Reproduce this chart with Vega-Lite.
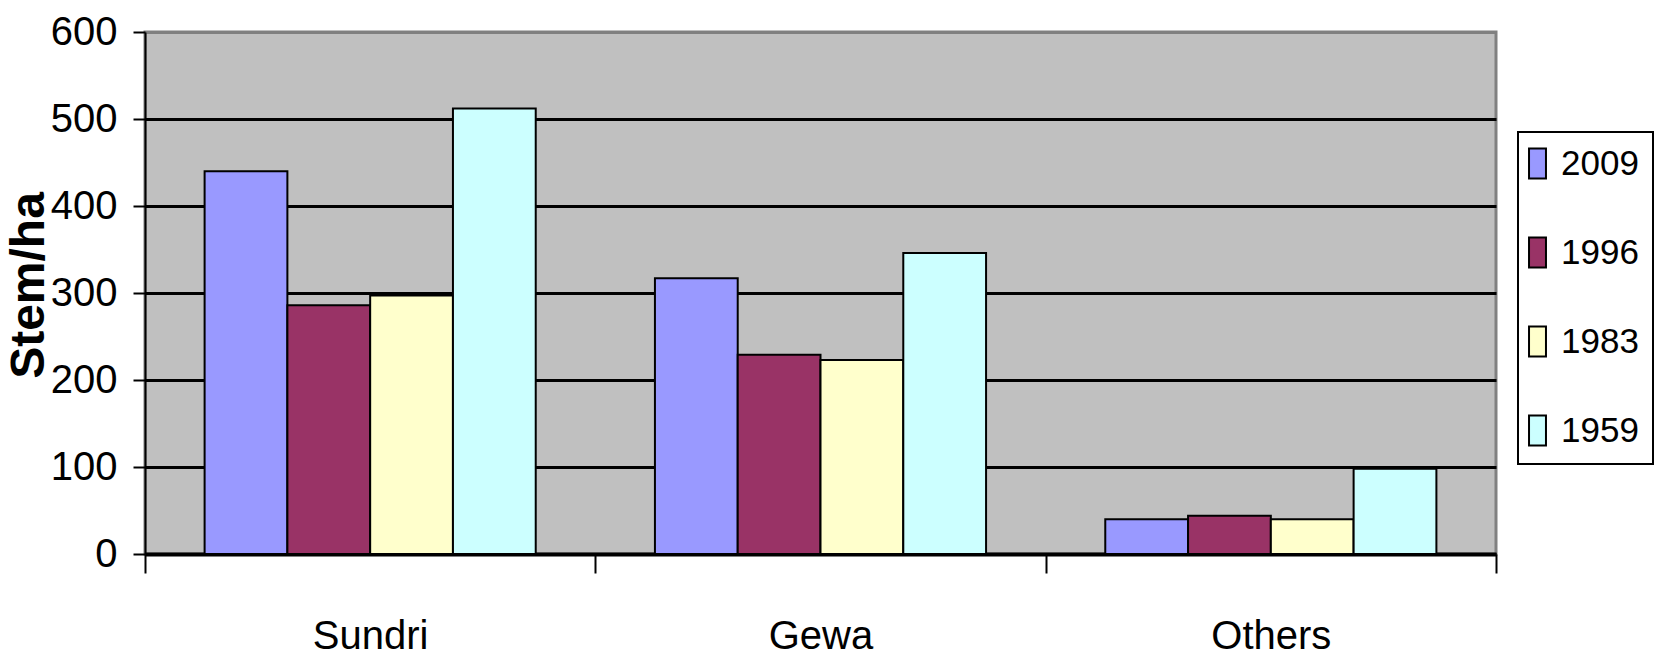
{
  "$schema": "https://vega.github.io/schema/vega-lite/v6.json",
  "width": 1351,
  "height": 522,
  "autosize": {"type": "none"},
  "padding": {"left": 145, "top": 32, "right": 160, "bottom": 103},
  "background": "white",
  "data": {
    "values": [
      {"species": "Sundri", "year": "2009", "value": 440},
      {"species": "Sundri", "year": "1996", "value": 286},
      {"species": "Sundri", "year": "1983", "value": 297},
      {"species": "Sundri", "year": "1959", "value": 512},
      {"species": "Gewa", "year": "2009", "value": 317},
      {"species": "Gewa", "year": "1996", "value": 229},
      {"species": "Gewa", "year": "1983", "value": 223},
      {"species": "Gewa", "year": "1959", "value": 346},
      {"species": "Others", "year": "2009", "value": 40},
      {"species": "Others", "year": "1996", "value": 44},
      {"species": "Others", "year": "1983", "value": 40},
      {"species": "Others", "year": "1959", "value": 98}
    ]
  },
  "mark": {"type": "bar", "stroke": "black", "strokeWidth": 2},
  "encoding": {
    "x": {
      "field": "species",
      "type": "nominal",
      "sort": ["Sundri", "Gewa", "Others"],
      "scale": {"paddingInner": 0, "paddingOuter": 0},
      "axis": {
        "title": null,
        "labelAngle": 0,
        "domainColor": "black",
        "domainWidth": 4,
        "tickColor": "black",
        "tickWidth": 2,
        "tickSize": 19,
        "tickBand": "extent",
        "labelFont": "Liberation Sans",
        "labelFontSize": 40,
        "labelColor": "black",
        "labelBaseline": "alphabetic",
        "labelPadding": 75,
        "labelFlush": false
      }
    },
    "xOffset": {
      "field": "year",
      "type": "nominal",
      "sort": ["2009", "1996", "1983", "1959"],
      "scale": {"paddingInner": 0, "paddingOuter": 0.72}
    },
    "y": {
      "field": "value",
      "type": "quantitative",
      "scale": {"domain": [0, 600], "nice": false},
      "axis": {
        "title": "Stem/ha",
        "values": [0, 100, 200, 300, 400, 500, 600],
        "grid": true,
        "gridColor": {"condition": {"test": "datum.value === 600", "value": "#808080"}, "value": "black"},
        "gridWidth": 3,
        "domainColor": "black",
        "domainWidth": 2,
        "tickColor": "black",
        "tickWidth": 2,
        "tickSize": 12,
        "labelFont": "Liberation Sans",
        "labelFontSize": 40,
        "labelColor": "black",
        "labelPadding": 16,
        "labelFlush": false,
        "labelOverlap": false,
        "titleFont": "Liberation Sans",
        "titleFontWeight": "bold",
        "titleFontSize": 48,
        "titleColor": "black",
        "titleAngle": 270,
        "titleX": -116,
        "titleY": 253,
        "titleAlign": "center",
        "titleBaseline": "middle"
      }
    },
    "color": {
      "field": "year",
      "type": "nominal",
      "sort": ["2009", "1996", "1983", "1959"],
      "scale": {"domain": ["2009", "1996", "1983", "1959"], "range": ["#9999FF", "#993366", "#FFFFCC", "#CCFFFF"]},
      "legend": {
        "title": null,
        "orient": "none",
        "legendX": 1373,
        "legendY": 100,
        "padding": 14,
        "fillColor": "white",
        "strokeColor": "black",
        "rowPadding": 50,
        "symbolType": "M-1.13,-2H1.13V2H-1.13Z",
        "symbolSize": 225,
        "symbolOffset": -12,
        "symbolStrokeColor": "black",
        "symbolStrokeWidth": 2,
        "symbolOpacity": 1,
        "labelFont": "Liberation Sans",
        "labelFontSize": 35,
        "labelColor": "black",
        "labelOffset": 6,
        "encode": {"legend": {"update": {"strokeWidth": {"value": 2}}}}
      }
    }
  },
  "config": {
    "view": {"fill": "#C0C0C0", "stroke": "#808080", "strokeWidth": 3}
  }
}
